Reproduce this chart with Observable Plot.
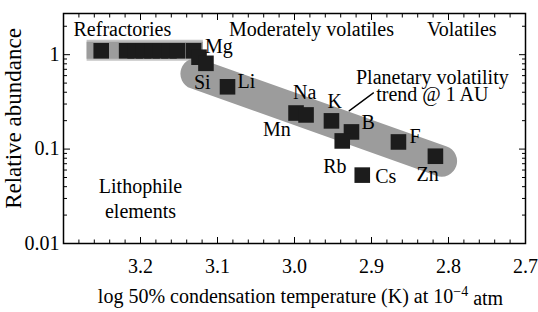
<!DOCTYPE html>
<html><head><meta charset="utf-8">
<script src="https://cdn.jsdelivr.net/npm/d3@7"></script>
<script src="https://cdn.jsdelivr.net/npm/@observablehq/plot@0.6"></script>
<style>
body{margin:0;background:#fff;}
svg{display:block;}
</style>
</head><body><div id="chart"></div>
<script>
// ---- data ----
const refractoryTemps = [3.251, 3.218, 3.207, 3.196, 3.185, 3.174, 3.163, 3.152, 3.131];
const refractoryAbund = [1.10, 1.10, 1.10, 1.10, 1.10, 1.10, 1.10, 1.10, 1.10];
const elementNames = ["Mg", "Si", "Li", "Mn", "Na", "K", "B", "Rb", "F", "Zn", "Cs"];
const elementTemps = [3.124, 3.115, 3.087, 2.998, 2.985, 2.952, 2.926, 2.938, 2.865, 2.817, 2.912];
const elementAbund = [0.94, 0.81, 0.457, 0.241, 0.230, 0.199, 0.152, 0.122, 0.119, 0.084, 0.053];
const xMajorTicks = [3.2, 3.1, 3.0, 2.9, 2.8, 2.7];
const xTickLabels = ["3.2", "3.1", "3.0", "2.9", "2.8", "2.7"];
const xMinorTicks = [3.28, 3.26, 3.24, 3.22, 3.18, 3.16, 3.14, 3.12, 3.08, 3.06, 3.04, 3.02,
                     2.98, 2.96, 2.94, 2.92, 2.88, 2.86, 2.84, 2.82, 2.78, 2.76, 2.74, 2.72];
const yMajorTicks = [1, 0.1, 0.01];
const yTickLabels = ["1", "0.1", "0.01"];
const yMinorTicks = [2, 0.9, 0.8, 0.7, 0.6, 0.5, 0.4, 0.3, 0.2,
                     0.09, 0.08, 0.07, 0.06, 0.05, 0.04, 0.03, 0.02];
const refractoryBandX = [3.270, 3.119];
const refractoryBandY = [1.117, 1.117];
const trendBandX = [3.128, 2.809];
const trendBandY = [0.628, 0.0745];
const leaderX = [2.929, 2.8975];
const leaderY = [0.254, 0.394];
const xTitle = "log 50% condensation temperature (K) at 10";
const xTitleSup = "−4";
const xTitleEnd = " atm";
const yTitle = "Relative abundance";

// ---- label placement (styling) ----
const labelOffsets = {
  Mg: [6, -4.5], Si: [-12, 25.5], Li: [10, 1], Mn: [-33, 23], Na: [-13, -16],
  K: [-4, -13], B: [10, -3], Rb: [-19, 32], F: [11, 1], Zn: [-19, 25], Cs: [13, 8]
};

const points = elementNames.map((n, i) => ({name: n, t: elementTemps[i], a: elementAbund[i]}));
const refr = refractoryTemps.map((t, i) => ({t, a: refractoryAbund[i]}));
const refBand = refractoryBandX.map((t, i) => ({t, a: refractoryBandY[i]}));
const trendBand = trendBandX.map((t, i) => ({t, a: trendBandY[i]}));
const leader = leaderX.map((t, i) => ({t, a: leaderY[i]}));

const FONT = 20;
const FF = "Liberation Serif";
const T = {fontSize: FONT, fontFamily: FF, fill: "black"};
const labelMarks = points.map(p => Plot.text([p], {
  x: "t", y: "a", text: "name", textAnchor: "start", lineAnchor: "bottom",
  dx: labelOffsets[p.name][0], dy: labelOffsets[p.name][1], ...T
}));

const chart = Plot.plot({
  width: 538, height: 312,
  marginLeft: 63, marginRight: 13, marginTop: 13, marginBottom: 69,
  style: {fontFamily: FF, fontSize: "20px", background: "white", color: "black"},
  x: {domain: [3.3, 2.7]},
  y: {type: "log", domain: [0.01, 2.73]},
  marks: [
    // gray bands
    Plot.line(refBand, {x: "t", y: "a", stroke: "#c4c4c4", strokeWidth: 21, strokeLinecap: "butt"}),
    Plot.line(refBand, {x: "t", y: "a", stroke: "#9c9c9c", strokeWidth: 17, strokeLinecap: "butt"}),
    Plot.line(trendBand, {x: "t", y: "a", stroke: "#9c9c9c", strokeWidth: 31, strokeLinecap: "round"}),
    // squares
    Plot.dot(refr, {x: "t", y: "a", symbol: "square", r: 8.8, fill: "#1c1c1c"}),
    Plot.dot(points, {x: "t", y: "a", symbol: "square", r: 8.8, fill: "#1c1c1c"}),
    ...labelMarks,
    // leader line
    Plot.line(leader, {x: "t", y: "a", stroke: "black", strokeWidth: 1.3}),
    // annotations
    Plot.text(["Refractories"], {x: 3.287, y: 1.593, textAnchor: "start", lineAnchor: "bottom", ...T}),
    Plot.text(["Moderately volatiles"], {x: 3.085, y: 1.593, textAnchor: "start", lineAnchor: "bottom", ...T}),
    Plot.text(["Volatiles"], {x: 2.828, y: 1.593, textAnchor: "start", lineAnchor: "bottom", ...T}),
    Plot.text(["Planetary volatility\ntrend @ 1 AU"], {x: 2.821, y: 0.324, textAnchor: "middle", lineAnchor: "bottom", lineHeight: 0.85, ...T}),
    Plot.text(["Lithophile\nelements"], {x: 3.2, y: 0.01858, textAnchor: "middle", lineAnchor: "bottom", lineHeight: 1.25, ...T}),
    // axes: inward ticks
    Plot.axisX(xMajorTicks, {anchor: "bottom", tickSize: -6, tickPadding: 21, label: null,
      tickFormat: (d) => xTickLabels[xMajorTicks.indexOf(d)], fontSize: FONT, fontFamily: FF}),
    Plot.axisX(xMinorTicks, {anchor: "bottom", tickSize: -3.5, label: null, tickFormat: () => ""}),
    Plot.axisX(xMajorTicks, {anchor: "top", tickSize: -6, label: null, tickFormat: () => ""}),
    Plot.axisX(xMinorTicks, {anchor: "top", tickSize: -3.5, label: null, tickFormat: () => ""}),
    Plot.axisY(yMajorTicks, {anchor: "left", tickSize: -7, tickPadding: 11, label: null,
      tickFormat: d => yTickLabels[yMajorTicks.indexOf(d)], fontSize: FONT, fontFamily: FF}),
    Plot.axisY(yMinorTicks, {anchor: "left", tickSize: -4, label: null, tickFormat: () => ""}),
    Plot.axisY(yMajorTicks, {anchor: "right", tickSize: -7, label: null, tickFormat: () => ""}),
    Plot.axisY(yMinorTicks, {anchor: "right", tickSize: -4, label: null, tickFormat: () => ""}),
    Plot.frame({stroke: "black", strokeWidth: 1.5}),
    // axis titles
    Plot.text([xTitle], {frameAnchor: "bottom", textAnchor: "middle", lineAnchor: "bottom", dx: 6, dy: 59, ...T}),
    Plot.text([yTitle], {frameAnchor: "left", textAnchor: "middle", rotate: -90, lineAnchor: "middle", dx: -50, dy: -10, ...T, fontSize: 23})
  ]
});
document.getElementById("chart").appendChild(chart);

// add the superscript exponent to the x-axis title
d3.select(chart).selectAll("text").filter(function() { return this.textContent === xTitle; })
  .each(function() {
    const el = d3.select(this);
    el.text(null);
    el.append("tspan").text(xTitle);
    el.append("tspan").attr("dy", "-0.45em").attr("font-size", "14px").text(xTitleSup);
    el.append("tspan").attr("dy", "0.45em").text(xTitleEnd);
  });
</script>
</body></html>
